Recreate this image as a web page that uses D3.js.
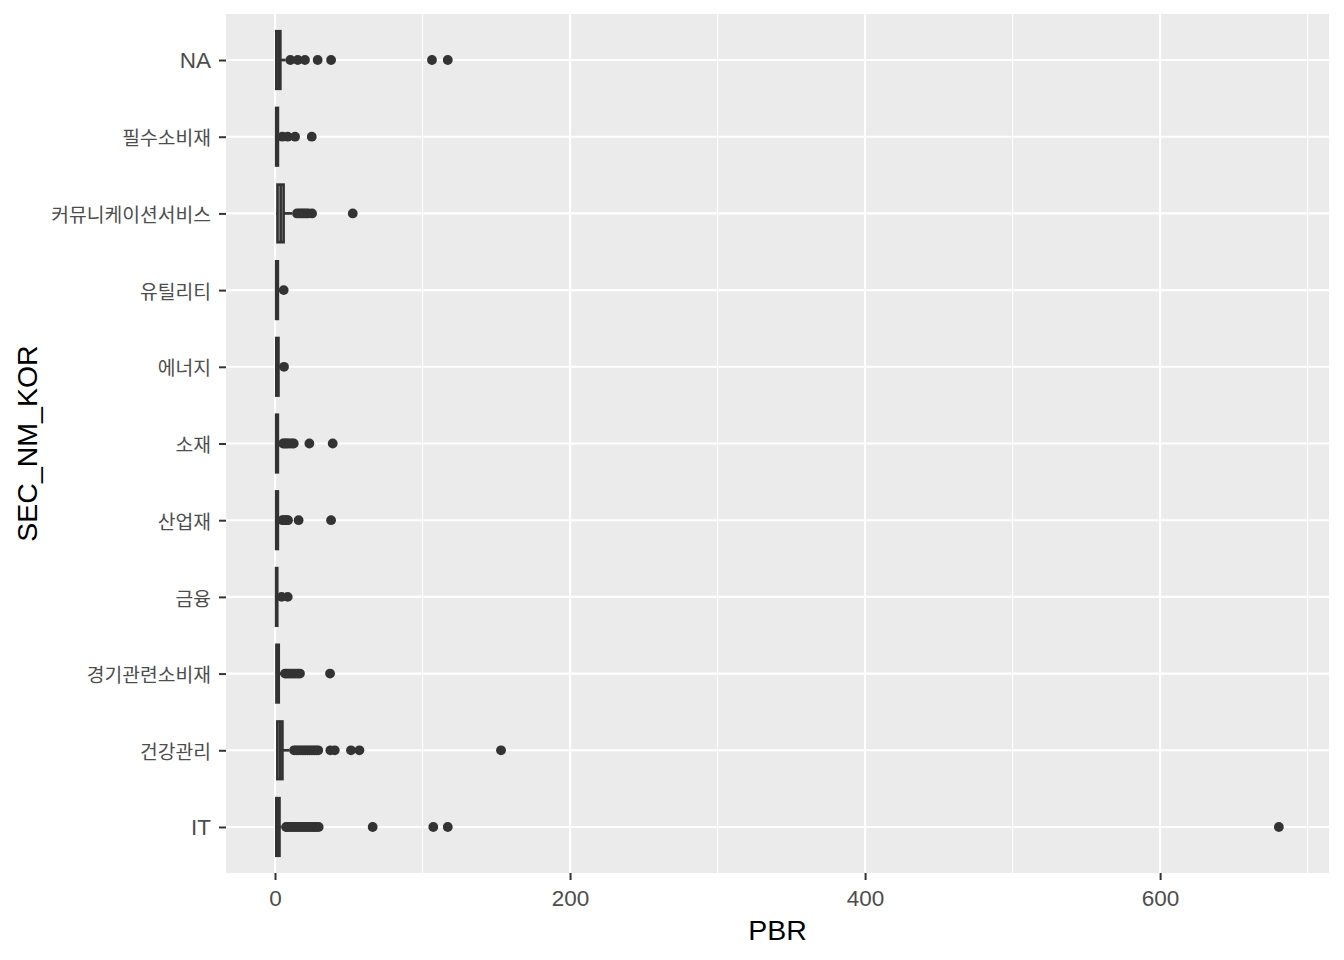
<!DOCTYPE html>
<html><head><meta charset="utf-8">
<script src="https://cdn.jsdelivr.net/npm/d3@7"></script>
<style>body{margin:0;background:#fff}</style>
</head><body><svg id="c" width="1344" height="960"></svg>
<script>
// ---- data (bottom to top, as ggplot orders the factor) ----
const categories = ["IT","건강관리","경기관련소비재","금융","산업재","소재","에너지","유틸리티","커뮤니케이션서비스","필수소비재","NA"];
const lowerWhisker = [0.76, 0.76, 0.76, 0.76, 0.76, 0.76, 0.76, 0.76, 0.76, 0.76, 0.76];
const q1Values     = [0.9, 1.6, 1.0, 0.76, 0.8, 0.8, 0.9, 0.8, 1.7, 0.8, 0.9];
const medianValues = [1.8, 3.3, 1.6, 1.0, 1.2, 1.2, 1.4, 1.2, 3.8, 1.3, 2.3];
const q3Values     = [3.0, 5.0, 2.5, 1.5, 1.9, 1.9, 2.3, 1.9, 5.8, 1.95, 3.6];
const upperWhisker = [4.3, 9.6, 4.6, 2.4, 3.5, 3.4, 3.9, 3.2, 11.5, 3.6, 7.2];
const outliers = [
  [7.5, 8.5, 10, 11.5, 13, 14.5, 16, 17.5, 19, 20.5, 22, 23.5, 25, 26.5, 28, 29.6, 66.2, 107.3, 117.1, 680.5],
  [12.9, 14.5, 16, 17.5, 19, 20.5, 22, 23.5, 25, 26.5, 28, 29.3, 37.5, 40.5, 51.5, 57.2, 153.2],
  [6.8, 8, 9.5, 11, 12.5, 14, 15.5, 16.9, 37.3],
  [4.5, 8.6],
  [5, 6, 7, 8, 8.8, 16, 38],
  [5.5, 6.5, 7.5, 8.5, 10, 11.5, 12.7, 23.3, 39.1],
  [6.1],
  [5.9],
  [14.9, 16.5, 18, 19.5, 21, 22.5, 25.1, 52.7],
  [5.0, 8.6, 13.6, 24.9],
  [10.4, 15.4, 20.3, 28.9, 38, 106.4, 117.1]
];
const xTicks = [0, 200, 400, 600];
const xMinorTicks = [100, 300, 500, 700];
const xTitle = "PBR";
const yTitle = "SEC_NM_KOR";

// ---- layout ----
const panel = {left: 226, right: 1329, top: 14, bottom: 873};
const ink = "#333333";
const svg = d3.select("#c");

const allVals = [...lowerWhisker, ...upperWhisker, ...outliers.flat()];
const vMin = d3.min(allVals), vMax = d3.max(allVals), ex = (vMax - vMin) * 0.05;
const x = d3.scaleLinear().domain([vMin - ex, vMax + ex]).range([panel.left, panel.right]);
const y = d3.scalePoint().domain(categories).range([panel.bottom, panel.top]).padding(0.6);
const boxH = y.step() * 0.75;

// panel background
svg.append("rect").attr("x", panel.left).attr("y", panel.top)
  .attr("width", panel.right - panel.left).attr("height", panel.bottom - panel.top)
  .attr("fill", "#EBEBEB");

// grid
const grid = svg.append("g");
grid.selectAll(".minor").data(xMinorTicks).join("line")
  .attr("x1", d => x(d)).attr("x2", d => x(d))
  .attr("y1", panel.top).attr("y2", panel.bottom)
  .attr("stroke", "#fff").attr("stroke-width", 1.1);
grid.selectAll(".majx").data(xTicks).join("line")
  .attr("x1", d => x(d)).attr("x2", d => x(d))
  .attr("y1", panel.top).attr("y2", panel.bottom)
  .attr("stroke", "#fff").attr("stroke-width", 2.1);
grid.selectAll(".majy").data(categories).join("line")
  .attr("x1", panel.left).attr("x2", panel.right)
  .attr("y1", d => y(d)).attr("y2", d => y(d))
  .attr("stroke", "#fff").attr("stroke-width", 2.1);

// boxplots
const rows = categories.map((c, i) => ({
  c, lo: lowerWhisker[i], q1: q1Values[i], med: medianValues[i], q3: q3Values[i], hi: upperWhisker[i], out: outliers[i]
}));
const g = svg.append("g");
const sw = 2.7;
rows.forEach(r => {
  const cy = y(r.c);
  g.append("line").attr("x1", x(r.q3)).attr("x2", x(r.hi)).attr("y1", cy).attr("y2", cy)
    .attr("stroke", ink).attr("stroke-width", sw);
  g.append("line").attr("x1", x(r.lo)).attr("x2", x(r.q1)).attr("y1", cy).attr("y2", cy)
    .attr("stroke", ink).attr("stroke-width", sw);
  g.append("rect").attr("x", x(r.q1)).attr("y", cy - boxH / 2)
    .attr("width", x(r.q3) - x(r.q1)).attr("height", boxH)
    .attr("fill", "#fff").attr("stroke", ink).attr("stroke-width", sw);
  g.append("line").attr("x1", x(r.med)).attr("x2", x(r.med))
    .attr("y1", cy - boxH / 2).attr("y2", cy + boxH / 2)
    .attr("stroke", ink).attr("stroke-width", sw);
  g.selectAll(null).data(r.out).join("circle")
    .attr("cx", d => x(d)).attr("cy", cy).attr("r", 4.9).attr("fill", ink);
});

// x axis
const xAxis = svg.append("g").attr("transform", `translate(0,${panel.bottom})`)
  .call(d3.axisBottom(x).tickValues(xTicks).tickFormat(d3.format("d")).tickSize(7).tickPadding(10));
xAxis.select(".domain").remove();
xAxis.selectAll(".tick line").attr("stroke", ink).attr("stroke-width", 2);
xAxis.selectAll(".tick text").attr("fill", "#4D4D4D")
  .style("font-family", "'Liberation Sans', Arial, sans-serif").style("font-size", "22.5px");

// y axis
const yAxis = svg.append("g").attr("transform", `translate(${panel.left},0)`)
  .call(d3.axisLeft(y).tickSize(7).tickPadding(8));
yAxis.select(".domain").remove();
yAxis.selectAll(".tick line").attr("stroke", ink).attr("stroke-width", 2);
yAxis.selectAll(".tick text").attr("fill", "#4D4D4D")
  .each(function(d) {
    const isKo = /[\uAC00-\uD7A3]/.test(d);
    d3.select(this)
      .attr("dy", isKo ? "0.42em" : "0.32em")
      .style("font-family", isKo ? "'Noto Sans CJK KR', sans-serif" : "'Liberation Sans', Arial, sans-serif")
      .style("font-size", isKo ? "19.3px" : "22.5px");
  });

// titles
svg.append("text").attr("x", (panel.left + panel.right) / 2).attr("y", 940)
  .attr("text-anchor", "middle").attr("fill", "#000")
  .style("font-family", "'Liberation Sans', Arial, sans-serif").style("font-size", "28.5px")
  .text(xTitle);
svg.append("text").attr("transform", `translate(37,${(panel.top + panel.bottom) / 2}) rotate(-90)`)
  .attr("text-anchor", "middle").attr("fill", "#000")
  .style("font-family", "'Liberation Sans', Arial, sans-serif").style("font-size", "28.5px")
  .text(yTitle);
</script></body></html>
